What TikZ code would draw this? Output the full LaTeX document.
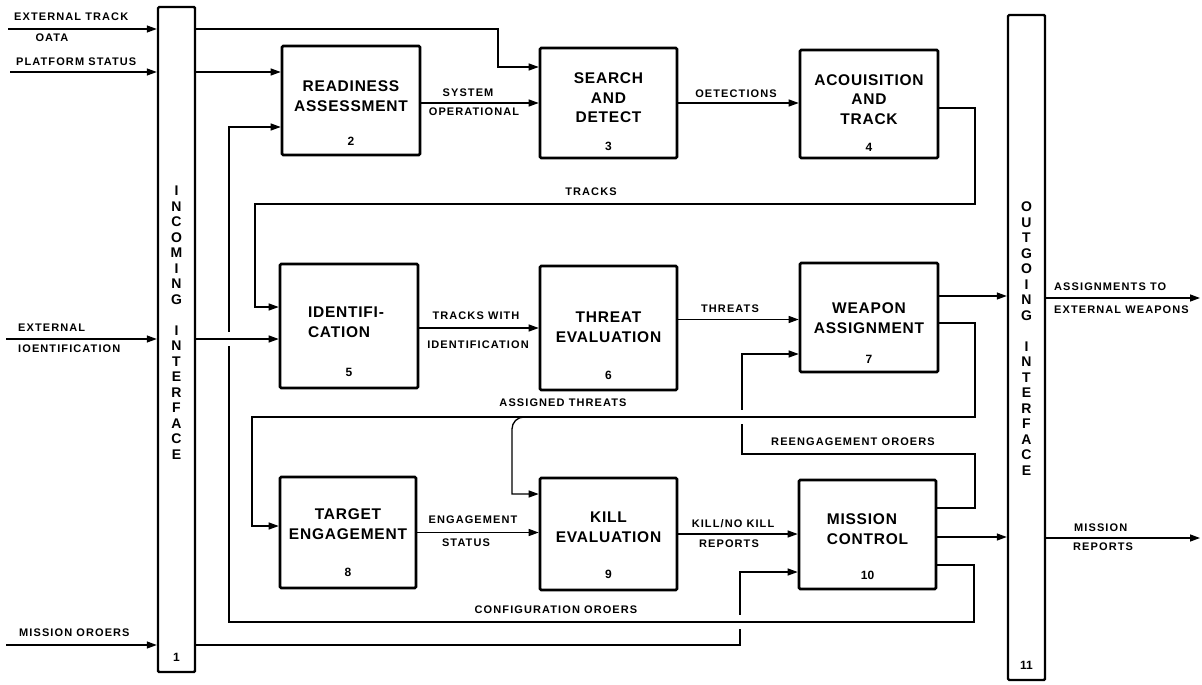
\documentclass[tikz,border=0pt]{standalone}
\usepackage{fontspec}
\setmainfont{Liberation Sans}
\newfontfamily\labfont[LetterSpace=10]{Liberation Sans}
\newfontfamily\ttlfont[LetterSpace=5]{Liberation Sans}
\usetikzlibrary{arrows.meta,calc}
\begin{document}
\begin{tikzpicture}[x=1pt,y=-1pt,
  blk/.style={draw, line width=2.6pt, rounded corners=1.2pt, inner sep=0pt},
  bar/.style={draw, line width=2.4pt, rounded corners=1.2pt, minimum width=37pt, minimum height=665pt, inner sep=0pt},
  conn/.style={line width=1.3pt, -{Triangle[length=10pt,width=7pt]}},
  ttl/.style={font=\ttlfont\bfseries\fontsize{15.5}{19.5}\selectfont, align=center, inner sep=0pt},
  num/.style={font=\bfseries\fontsize{12}{14}\selectfont, inner sep=0pt},
  lab/.style={font=\labfont\bfseries\fontsize{11}{13}\selectfont, inner sep=0pt},
  vtxt/.style={font=\bfseries\fontsize{14}{15.5}\selectfont, align=center, inner sep=0pt},
  gap/.style={fill=white}]
\fill[white] (0,0) rectangle (1202,685);
\useasboundingbox (0,0) rectangle (1202,685);

% interface bars
\node[bar] (bar1) at (176.5,339.5) {};
\node[bar] (bar11) at (1026.5,347.5) {};
\node[vtxt] (v1) at (176.5,322.5) {I\\N\\C\\O\\M\\I\\N\\G\\[15.5pt]I\\N\\T\\E\\R\\F\\A\\C\\E};
\node[num] (v1n) at (176.5,657) {1};
\node[vtxt] (v11) at (1026.5,338.5) {O\\U\\T\\G\\O\\I\\N\\G\\[15.5pt]I\\N\\T\\E\\R\\F\\A\\C\\E};
\node[num] (v11n) at (1026.5,665) {11};

% function boxes
\node[blk, minimum width=138pt, minimum height=109pt] (b2) at (351,100.5) {};
\node[blk, minimum width=137pt, minimum height=110pt] (b3) at (608.5,103) {};
\node[blk, minimum width=138pt, minimum height=108pt] (b4) at (869,104) {};
\node[blk, minimum width=138pt, minimum height=124pt] (b5) at (349,326) {};
\node[blk, minimum width=137pt, minimum height=124pt] (b6) at (608.5,328) {};
\node[blk, minimum width=138pt, minimum height=109pt] (b7) at (869,317.5) {};
\node[blk, minimum width=136pt, minimum height=111pt] (b8) at (348,532.5) {};
\node[blk, minimum width=137pt, minimum height=112pt] (b9) at (608.5,534) {};
\node[blk, minimum width=137pt, minimum height=109pt] (b10) at (867.5,534.5) {};

\node[ttl] (t2) at (351,96) {READINESS\\ASSESSMENT};
\node[num] (n2) at (351,141) {2};
\node[ttl] (t3) at (608.5,98) {SEARCH\\AND\\DETECT};
\node[num] (n3) at (608.5,146) {3};
\node[ttl] (t4) at (869,99.5) {ACOUISITION\\AND\\TRACK};
\node[num] (n4) at (869,147) {4};
\node[ttl, align=left] (t5) at (346,322) {IDENTIFI-\\CATION};
\node[num] (n5) at (349,372) {5};
\node[ttl] (t6) at (608.5,327) {THREAT\\EVALUATION};
\node[num] (n6) at (608.5,375) {6};
\node[ttl] (t7) at (869,318) {WEAPON\\ASSIGNMENT};
\node[num] (n7) at (869,359) {7};
\node[ttl] (t8) at (348,524) {TARGET\\ENGAGEMENT};
\node[num] (n8) at (348,572) {8};
\node[ttl] (t9) at (608.5,527) {KILL\\EVALUATION};
\node[num] (n9) at (608.5,574) {9};
\node[ttl, align=left] (t10) at (867.5,529) {MISSION\\CONTROL};
\node[num] (n10) at (867.5,575) {10};

% free ends and bends
\coordinate (etin) at (8,29);
\coordinate (ptin) at (10,72);
\coordinate (eiin) at (6,339);
\coordinate (moin) at (6,645);
\coordinate (c3a) at (498,67);
\coordinate (trk1) at (975,204);
\coordinate (trkL) at (255,204);
\coordinate (at1) at (975,417);
\coordinate (at2) at (252,417);
\coordinate (atb) at (524,417);
\coordinate (atc) at (512,429);
\coordinate (atk) at (512,494);
\coordinate (re1) at (975,454);
\coordinate (re2) at (742,454);
\coordinate (cf1) at (974,622);
\coordinate (cf2) at (229,622);
\coordinate (mo1) at (740,645);
\coordinate (awout) at (1200,298);
\coordinate (mrout) at (1200,538);
\coordinate (x1) at (740,622);
\coordinate (x2) at (229,339);
\coordinate (x3) at (742,417);
\coordinate (wout) at ($(b7.east)+(0,-21.5)$);
\coordinate (mcout) at ($(b10.east)+(0,2.5)$);

% external inputs
\draw[conn] (etin) -- (etin -| bar1.west);
\draw[conn] (ptin) -- (ptin -| bar1.west);
\draw[conn] (eiin) -- (eiin -| bar1.west);
\draw[conn] (moin) -- (moin -| bar1.west);

% top row
\draw[conn] (bar1.east |- etin) -| (c3a) -- (c3a -| b3.west);
\draw[conn] (bar1.east |- ptin) -- (ptin -| b2.west);
\draw[conn] (b2.east |- b3.west) -- (b3.west);
\draw[conn] (b3.east) -- (b3.east -| b4.west);
\draw[conn] ($(b4.east)+(0,4)$) -| (trk1) -- (trkL) |- ($(b5.west)+(0,-19)$);

% middle row
\draw[conn] (b5.east |- b6.west) -- (b6.west);
\draw[conn] ($(b6.east)+(0,-8.5)$) -- ($(b7.west)+(0,2)$);
\draw[conn] (wout) -- (wout -| bar11.west);
\draw[conn] (awout -| bar11.east) -- (awout);

% mission orders, config orders, crossings
\draw[conn] (bar1.east |- moin) -- (mo1) |- ($(b10.west)+(0,37.5)$);
\fill[gap] ($(x1)+(-2.5,-7)$) rectangle ($(x1)+(2.5,7)$);
\draw[conn] ($(b10.east)+(0,30.5)$) -| (cf1) -- (cf2) |- ($(b2.west)+(0,26.5)$);
\fill[gap] ($(x2)+(-2.5,-7)$) rectangle ($(x2)+(2.5,7)$);
\draw[conn] (bar1.east |- eiin) -- (eiin -| b5.west);

% reengagement and assigned threats
\draw[conn] ($(b10.east)+(0,-26.5)$) -| (re1) -- (re2) |- ($(b7.west)+(0,36.5)$);
\fill[gap] ($(x3)+(-2.5,-7)$) rectangle ($(x3)+(2.5,7)$);
\draw[conn] ($(b7.east)+(0,5.5)$) -| (at1) -- (at2) |- ($(b8.west)+(0,-6.5)$);
\draw[conn] (atb) to[out=180,in=90] (atc) -- (atk) -- (atk -| b9.west);

% bottom row
\draw[conn] (b8.east) -- (b8.east -| b9.west);
\draw[conn] (b9.east) -- (b9.east -| b10.west);
\draw[conn] (mcout) -- (mcout -| bar11.west);
\draw[conn] (mrout -| bar11.east) -- (mrout);

% labels
\node[lab, anchor=west] (l1) at (14,17) {EXTERNAL TRACK};
\node[lab] (l2) at (52,38) {OATA};
\node[lab, anchor=west] (l3) at (16,62) {PLATFORM STATUS};
\node[lab, anchor=west] (l4) at (18,328) {EXTERNAL};
\node[lab, anchor=west] (l5) at (18,349) {IOENTIFICATION};
\node[lab, anchor=west] (l6) at (19,633) {MISSION OROERS};
\node[lab] (l7) at (468,93) {SYSTEM};
\node[lab] (l8) at (474,112) {OPERATIONAL};
\node[lab] (l9) at (736,94) {OETECTIONS};
\node[lab] (l10) at (591,192) {TRACKS};
\node[lab] (l11) at (476,316) {TRACKS WITH};
\node[lab] (l12) at (478,345) {IDENTIFICATION};
\node[lab] (l13) at (730,309) {THREATS};
\node[lab] (l14) at (563,403) {ASSIGNED THREATS};
\node[lab] (l15) at (853,442) {REENGAGEMENT OROERS};
\node[lab] (l16) at (473,520) {ENGAGEMENT};
\node[lab] (l17) at (466,543) {STATUS};
\node[lab] (l18) at (733,524) {KILL/NO KILL};
\node[lab] (l19) at (729,544) {REPORTS};
\node[lab] (l20) at (556,610) {CONFIGURATION OROERS};
\node[lab, anchor=west] (l21) at (1054,287) {ASSIGNMENTS TO};
\node[lab, anchor=west] (l22) at (1054,310) {EXTERNAL WEAPONS};
\node[lab, anchor=west] (l23) at (1074,528) {MISSION};
\node[lab, anchor=west] (l24) at (1073,547) {REPORTS};
\end{tikzpicture}
\end{document}
